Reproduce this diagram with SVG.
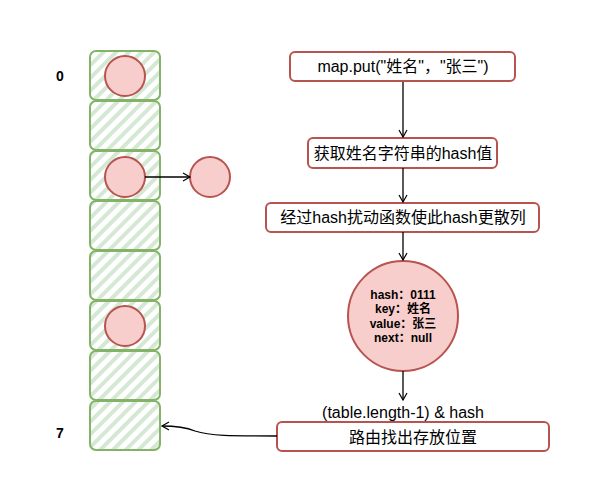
<svg xmlns="http://www.w3.org/2000/svg" width="601" height="502" viewBox="0 0 601 502">
<defs>
<pattern id="hatch" patternUnits="userSpaceOnUse" width="9" height="9" patternTransform="rotate(45)">
<rect width="9" height="9" fill="#ffffff"/>
<rect x="0" y="0" width="4" height="9" fill="#d5e8d4"/>
</pattern>
<marker id="arr" markerWidth="10" markerHeight="10" refX="8" refY="5" orient="auto" markerUnits="userSpaceOnUse">
<path d="M1,1 L8,5 L1,9" fill="none" stroke="#000" stroke-width="1.2"/>
</marker>
<style>
.cell{fill:url(#hatch);stroke:#82b366;stroke-width:2}
.dot{fill:#f8cecc;stroke:#b85450;stroke-width:2}
.box{fill:#fff;stroke:#b85450;stroke-width:2}
.t{font-family:"Liberation Sans","Noto Sans CJK SC",sans-serif;font-size:16px;fill:#000;text-anchor:middle}
.b{font-family:"Liberation Sans","Noto Sans CJK SC",sans-serif;font-size:12px;font-weight:bold;fill:#000;text-anchor:middle}
.idx{font-family:"Liberation Sans",sans-serif;font-size:14px;font-weight:bold;fill:#000;text-anchor:middle}
.c{fill:none;stroke:#000;stroke-width:1.3;marker-end:url(#arr)}
</style>
</defs>
<rect width="601" height="502" fill="#ffffff"/>
<g id="array">
<rect class="cell" x="90" y="51" width="70" height="49" rx="6"/>
<rect class="cell" x="90" y="101" width="70" height="49" rx="6"/>
<rect class="cell" x="90" y="151" width="70" height="49" rx="6"/>
<rect class="cell" x="90" y="201" width="70" height="49" rx="6"/>
<rect class="cell" x="90" y="251" width="70" height="49" rx="6"/>
<rect class="cell" x="90" y="301" width="70" height="49" rx="6"/>
<rect class="cell" x="90" y="351" width="70" height="49" rx="6"/>
<rect class="cell" x="90" y="401" width="70" height="49" rx="6"/>
</g>
<g id="labels">
<text class="idx" x="60" y="81">0</text>
<text class="idx" x="60" y="438">7</text>
</g>
<g id="node0"><circle class="dot" cx="125" cy="76" r="20"/></g>
<g id="node2"><circle class="dot" cx="125" cy="177" r="20"/></g>
<g id="node5"><circle class="dot" cx="125" cy="326" r="20"/></g>
<g id="node2next"><circle class="dot" cx="210" cy="177" r="20"/></g>
<g id="put"><rect class="box" x="290" y="52" width="225" height="29" rx="5"/><text class="t" x="403" y="72">map.put("姓名"，"张三")</text></g>
<g id="hashval"><rect class="box" x="308" y="138" width="189" height="30" rx="5"/><text class="t" x="403" y="159">获取姓名字符串的hash值</text></g>
<g id="perturb"><rect class="box" x="266" y="203" width="273" height="29" rx="5"/><text class="t" x="403" y="223">经过hash扰动函数使此hash更散列</text></g>
<g id="entry"><circle class="dot" cx="403" cy="316" r="55"/>
<text class="b" x="403" y="299">hash：0111</text>
<text class="b" x="403" y="313">key：姓名</text>
<text class="b" x="403" y="328">value：张三</text>
<text class="b" x="403" y="342">next：null</text></g>
<g id="expr"><text class="t" x="403" y="418">(table.length-1) &amp; hash</text></g>
<g id="route"><rect class="box" x="277" y="422" width="272" height="29" rx="5"/><text class="t" x="413" y="443">路由找出存放位置</text></g>
<g id="connectors">
<path class="c" d="M145,177 L190,177"/>
<path class="c" d="M403,82 L403,137"/>
<path class="c" d="M403,168 L403,202"/>
<path class="c" d="M403,232 L403,260"/>
<path class="c" d="M403,371 L403,400"/>
<path class="c" d="M277,436 C230,436 210,436 195,431 C185,427 175,426 162,426"/>
</g>
</svg>
